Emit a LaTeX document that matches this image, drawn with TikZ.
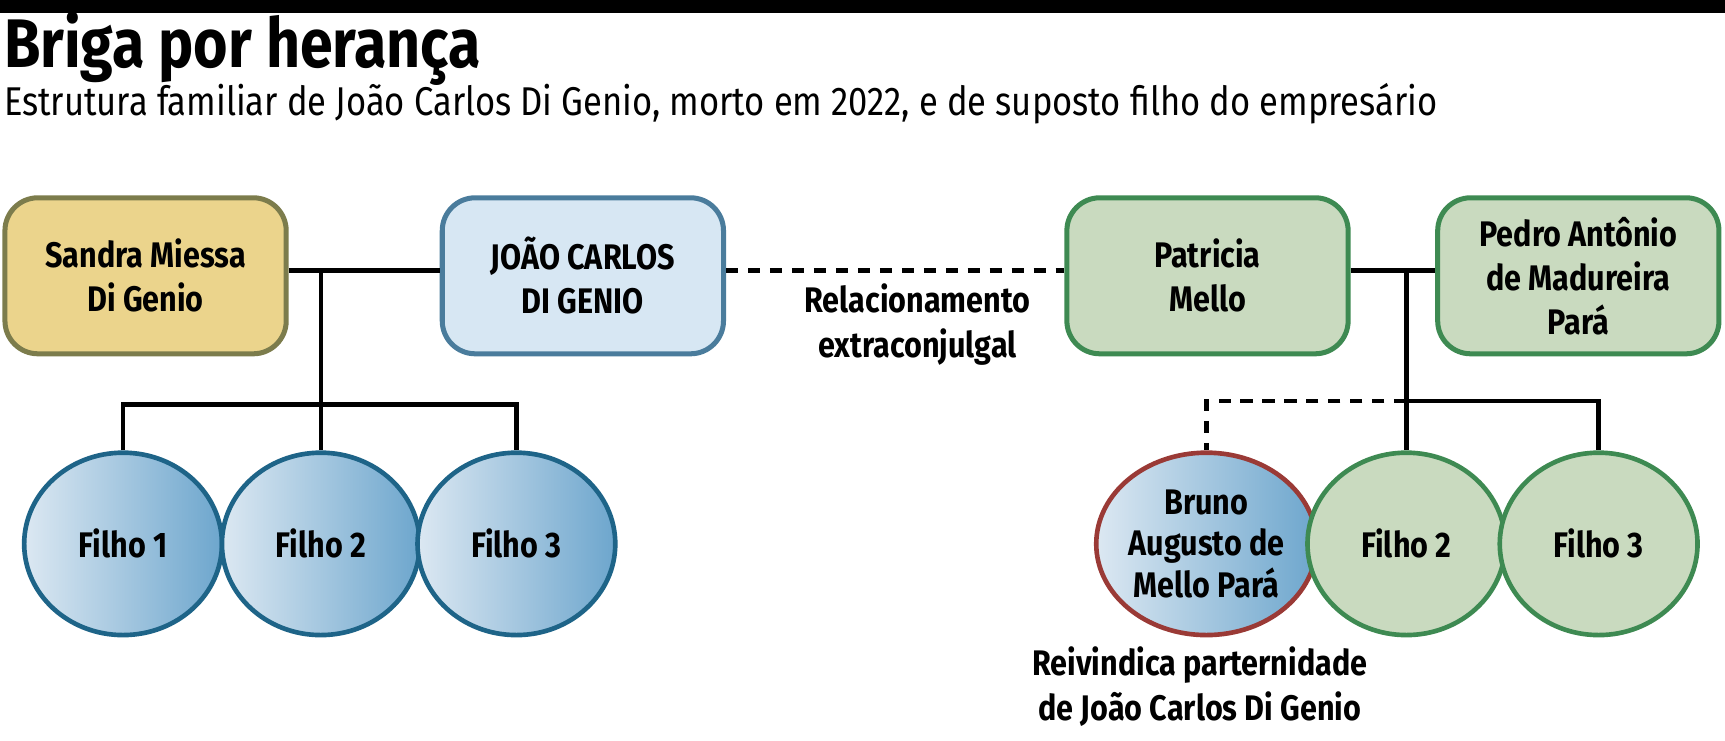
\documentclass[tikz,border=0pt]{standalone}
\usepackage{fontspec}
\setmainfont{Fira Sans}[FakeStretch=0.86]
\usetikzlibrary{positioning,shapes.geometric}
\definecolor{sandfill}{HTML}{EBD48C}
\definecolor{sanddraw}{HTML}{7C7C4C}
\definecolor{bluefill}{HTML}{D7E7F3}
\definecolor{bluedraw}{HTML}{4A7C9C}
\definecolor{greenfill}{HTML}{C9DABF}
\definecolor{greendraw}{HTML}{3E8A52}
\definecolor{kidlight}{HTML}{DCE8F2}
\definecolor{kiddark}{HTML}{6DA6CD}
\definecolor{kiddraw}{HTML}{1E6488}
\definecolor{reddraw}{HTML}{9A3A36}
\tikzset{
  person/.style={draw, line width=1.3pt, rounded corners=0.3cm, minimum width=2.56cm,
    minimum height=1.42cm, align=center, font=\fontsize{9.2}{11.4}\selectfont\bfseries},
  kid/.style={ellipse, draw=kiddraw, line width=1.2pt, minimum width=1.8cm, minimum height=1.66cm,
    inner sep=0pt, left color=kidlight, right color=kiddark, align=center,
    font=\fontsize{9.2}{10.8}\selectfont\bfseries},
  greenkid/.style={kid, draw=greendraw, fill=greenfill, left color=greenfill, right color=greenfill},
  link/.style={line width=1.2pt},
  dlink/.style={line width=1.2pt, dash pattern=on 0.11cm off 0.09cm},
  note/.style={align=center, font=\fontsize{9.2}{11.6}\selectfont\bfseries}
}
\begin{document}
\begin{tikzpicture}
    \useasboundingbox (0,0) rectangle (15.7,6.74);
    % header
    \fill (0,6.62) rectangle (15.7,6.74);
    \node[anchor=west, font=\fontsize{17.8}{20}\selectfont\bfseries, inner sep=0] (title) at (0.03,6.30) {Briga por herança};
    \node[anchor=west, font=\fontsize{10.4}{12}\selectfont, inner sep=0] (sub) at (0.03,5.80) {Estrutura familiar de João Carlos Di Genio, morto em 2022, e de suposto filho do empresário};

    % parents
    \node[person, draw=sanddraw, fill=sandfill] (sandra) at (1.325,4.23) {Sandra Miessa\\Di Genio};
    \node[person, draw=bluedraw, fill=bluefill] (joao) at (5.305,4.23) {JOÃO CARLOS\\DI GENIO};
    \node[person, draw=greendraw, fill=greenfill] (patricia) at (10.99,4.23) {Patricia\\Mello};
    \node[person, draw=greendraw, fill=greenfill] (pedro) at (14.365,4.23) {Pedro Antônio\\de Madureira\\Pará};

    % children
    \node[kid] (f1) at (1.12,1.79) {Filho 1};
    \node[kid] (f2) at (2.92,1.79) {Filho 2};
    \node[kid] (f3) at (4.70,1.79) {Filho 3};
    \node[kid, draw=reddraw] (bruno) at (10.98,1.79) {Bruno\\Augusto de\\Mello Pará};
    \node[greenkid] (g2) at (12.80,1.79) {Filho 2};
    \node[greenkid] (g3) at (14.55,1.79) {Filho 3};

    % left family
    \coordinate (lj) at (2.92,3.06);
    \draw[link] (sandra.east |- 0,4.28) -- (joao.west |- 0,4.28);
    \draw[link] (2.92,4.28) -- (lj);
    \draw[link] (f1.north) |- (lj) -| (f3.north);
    \draw[link] (lj) -- (f2.north);

    % affair
    \draw[dlink] (joao.east |- 0,4.28) -- (patricia.west |- 0,4.28);
    \node[note] (rel) at (8.35,3.79) {Relacionamento\\extraconjulgal};

    % right family
    \coordinate (rj) at (12.80,3.09);
    \draw[link] (patricia.east |- 0,4.28) -- (pedro.west |- 0,4.28);
    \draw[link] (12.80,4.28) -- (rj) -| (g3.north);
    \draw[link] (rj) -- (g2.north);
    \draw[dlink] (rj) -| (bruno.north);
    \node[note] (claim) at (10.92,0.49) {Reivindica parternidade\\de João Carlos Di Genio};
\end{tikzpicture}
\end{document}
